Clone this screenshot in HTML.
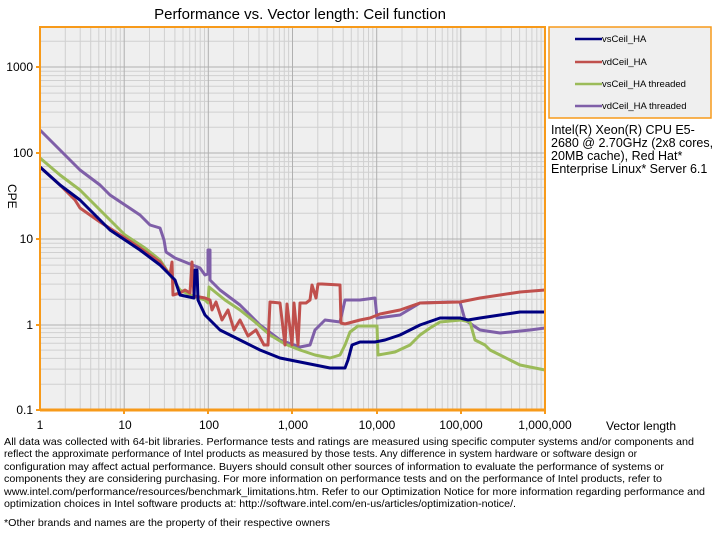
<!DOCTYPE html>
<html><head><meta charset="utf-8"><style>
html,body{margin:0;padding:0;background:#fff;}
svg{display:block;font-family:"Liberation Sans",Arial,sans-serif;}
</style></head><body>
<svg width="712" height="546" viewBox="0 0 712 546" xmlns="http://www.w3.org/2000/svg">
<rect x="40" y="27" width="505" height="383" fill="#efefef"/>
<path fill="none" stroke="#d0d0d0" stroke-width="1" d="
M65.3 27V410M80.2 27V410M90.7 27V410M98.8 27V410M105.5 27V410M111.1 27V410M116 27V410M120.3 27V410
M149.5 27V410M164.4 27V410M174.9 27V410M183 27V410M189.7 27V410M195.3 27V410M200.2 27V410M204.5 27V410
M233.6 27V410M248.5 27V410M259 27V410M267.1 27V410M273.8 27V410M279.4 27V410M284.3 27V410M288.6 27V410
M317.8 27V410M332.7 27V410M343.2 27V410M351.3 27V410M358 27V410M363.6 27V410M368.5 27V410M372.8 27V410
M402 27V410M416.9 27V410M427.4 27V410M435.5 27V410M442.2 27V410M447.8 27V410M452.7 27V410M457 27V410
M486.1 27V410M501 27V410M511.5 27V410M519.6 27V410M526.3 27V410M531.9 27V410M536.8 27V410M541.1 27V410
M40 384.2H545M40 369.1H545M40 358.4H545M40 350.1H545M40 343.3H545M40 337.5H545M40 332.6H545M40 328.2H545
M40 299.2H545M40 284.1H545M40 273.4H545M40 265.1H545M40 258.3H545M40 252.5H545M40 247.6H545M40 243.2H545
M40 213.2H545M40 198.1H545M40 187.4H545M40 179.1H545M40 172.3H545M40 166.5H545M40 161.6H545M40 157.2H545
M40 127.2H545M40 112.1H545M40 101.4H545M40 93.1H545M40 86.3H545M40 80.5H545M40 75.6H545M40 71.2H545
M40 41.2H545"/>
<path fill="none" stroke="#b0b0b0" stroke-width="1" d="M124.2 27V410M208.3 27V410M292.5 27V410M376.7 27V410M460.8 27V410M40 325H545M40 239H545M40 153H545M40 67H545"/>
<g fill="none" stroke-width="3" stroke-linejoin="round">
<polyline stroke="#7f5fa8" points="40,130 60,150 80,170 100,185 110,195 125,205 140,215 150,225 160,228 164,240 166,252 175,258 185,262 200,268 205,275 208,274 208,250 210,250 210,280 220,290 240,305 260,325 280,340 300,347 310,345 315,330 325,320 340,322 345,300 360,300 375,298 377,318 400,315 420,303 450,302 460,302 465,320 480,330 500,333 530,330 545,328"/>
<polyline stroke="#9bbb59" points="40,158 60,175 80,190 100,210 125,235 145,248 160,260 172,278 180,290 195,297 205,300 208,303 209,287 225,300 240,310 255,322 270,335 285,344 300,350 315,355 330,358 340,355 345,345 350,332 358,326 377,326 378,355 395,352 410,345 420,335 430,328 440,322 461,320 470,322 475,340 485,345 490,350 500,355 510,360 520,365 535,368 545,370"/>
<polyline stroke="#c0504d" points="40,167 60,185 75,200 80,208 100,222 125,238 140,248 160,262 170,275 172,262 173,295 180,293 185,290 190,293 192,262 194,296 205,298 210,300 212,310 216,302 222,320 228,310 234,330 240,320 248,336 256,330 264,345 268,345 270,302 280,303 285,345 287,304 292,345 294,303 298,345 300,303 306,303 310,300 312,285 316,298 318,284 322,284 340,285 341,323 345,324 360,320 370,318 380,314 400,310 420,303 460,302 480,298 500,295 520,292 545,290"/>
<polyline stroke="#000080" points="40,167 60,185 80,200 100,220 110,230 125,240 140,250 160,265 175,280 180,295 194,298 195,270 197,270 198,300 205,315 220,330 240,340 260,350 280,358 300,362 320,366 330,368 345,368 348,360 352,345 360,342 375,342 385,340 400,335 420,325 440,318 460,318 468,320 480,318 500,315 520,312 545,312"/>
</g>
<rect x="40" y="27" width="505" height="383" fill="none" stroke="#f79a1a" stroke-width="2"/>
<line x1="40" y1="410" x2="545" y2="410" stroke="#f79a1a" stroke-width="3"/>
<g stroke="#f79a1a" stroke-width="2">
<line x1="36" y1="67" x2="40" y2="67"/><line x1="36" y1="153" x2="40" y2="153"/><line x1="36" y1="239" x2="40" y2="239"/><line x1="36" y1="325" x2="40" y2="325"/><line x1="36" y1="410" x2="40" y2="410"/>
<line x1="124" y1="410" x2="124" y2="414"/><line x1="208" y1="410" x2="208" y2="414"/><line x1="292" y1="410" x2="292" y2="414"/><line x1="377" y1="410" x2="377" y2="414"/><line x1="461" y1="410" x2="461" y2="414"/><line x1="545" y1="410" x2="545" y2="414"/>
</g>
<text x="300" y="19" font-size="15" text-anchor="middle">Performance vs. Vector length: Ceil function</text>
<g font-size="12" text-anchor="end">
<text x="33" y="71">1000</text><text x="33" y="157">100</text><text x="33" y="243">10</text><text x="33" y="329">1</text><text x="33" y="414">0.1</text>
</g>
<text transform="translate(8,184) rotate(90)" font-size="12">CPE</text>
<g font-size="12" text-anchor="middle">
<text x="40" y="429">1</text><text x="125" y="429">10</text><text x="209" y="429">100</text><text x="293" y="429">1,000</text><text x="377" y="429">10,000</text><text x="461" y="429">100,000</text><text x="545" y="429">1,000,000</text>
</g>
<text x="606" y="430" font-size="12">Vector length</text>
<rect x="549" y="27" width="162" height="91" fill="#efefef" stroke="#f79a1a" stroke-width="1.5"/>
<g stroke-width="2.5">
<line x1="575" y1="39" x2="602" y2="39" stroke="#000080"/>
<line x1="575" y1="62" x2="602" y2="62" stroke="#c0504d"/>
<line x1="575" y1="84" x2="602" y2="84" stroke="#9bbb59"/>
<line x1="575" y1="106" x2="602" y2="106" stroke="#7f5fa8"/>
</g>
<g font-size="9.5">
<text x="602" y="42">vsCeil_HA</text><text x="602" y="65">vdCeil_HA</text><text x="602" y="87">vsCeil_HA threaded</text><text x="602" y="109">vdCeil_HA threaded</text>
</g>
<g font-size="12.5">
<text x="551" y="134">Intel(R) Xeon(R) CPU E5-</text>
<text x="551" y="147">2680 @ 2.70GHz (2x8 cores,</text>
<text x="551" y="160">20MB cache), Red Hat*</text>
<text x="551" y="173">Enterprise Linux* Server 6.1</text>
</g>
<g font-size="10.5">
<text x="4" y="445" textLength="690" lengthAdjust="spacingAndGlyphs">All data was collected with 64-bit libraries. Performance tests and ratings are measured using specific computer systems and/or components and</text>
<text x="4" y="457" textLength="633" lengthAdjust="spacingAndGlyphs">reflect the approximate performance of Intel products as measured by those tests. Any difference in system hardware or software design or</text>
<text x="4" y="470" textLength="660" lengthAdjust="spacingAndGlyphs">configuration may affect actual performance. Buyers should consult other sources of information to evaluate the performance of systems or</text>
<text x="4" y="482" textLength="658" lengthAdjust="spacingAndGlyphs">components they are considering purchasing. For more information on performance tests and on the performance of Intel products, refer to</text>
<text x="4" y="495" textLength="701" lengthAdjust="spacingAndGlyphs">www.intel.com/performance/resources/benchmark_limitations.htm.  Refer to our Optimization  Notice for more information regarding performance and</text>
<text x="4" y="507" textLength="512" lengthAdjust="spacingAndGlyphs">optimization  choices in Intel software products at: http://software.intel.com/en-us/articles/optimization-notice/.</text>
<text x="4" y="526" textLength="326" lengthAdjust="spacingAndGlyphs">*Other brands and names are the property of their respective owners</text>
</g>
</svg>
</body></html>
